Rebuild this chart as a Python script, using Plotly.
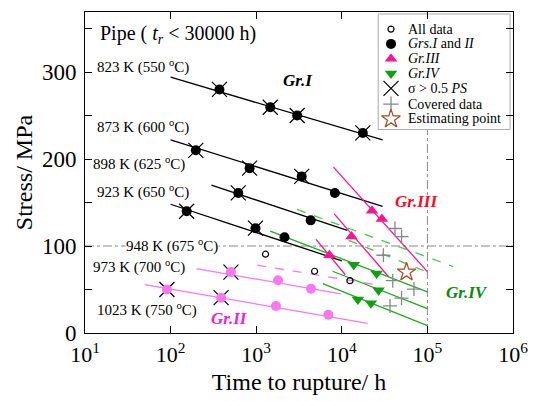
import plotly.graph_objects as go

SERIF = "Liberation Serif, Times New Roman, serif"

# ---------------- data (time to rupture h, stress MPa) ----------------
# Group I black fit lines
line_823_t = [100, 30000];  line_823_s = [294, 222]
line_873_t = [100, 30000];  line_873_s = [222, 145.5]
line_898_t = [300, 11600];  line_898_s = [170, 118]
line_923_t = [100, 10000];  line_923_s = [148, 83]

# Group I points (flag 1 = sigma > 0.5 PS)
pts_823_t = [372, 1460, 3010, 17600]; pts_823_s = [280, 259.5, 250, 230]; pts_823_x = [1, 1, 1, 1]
pts_873_t = [197, 837, 3400, 8300];   pts_873_s = [210, 189.5, 180, 161]; pts_873_x = [1, 1, 1, 0]
pts_898_t = [617, 4330];              pts_898_s = [161, 129.5];           pts_898_x = [1, 0]
pts_923_t = [154, 981, 2140];         pts_923_s = [140, 120.5, 110];      pts_923_x = [1, 1, 0]

# Group II (pink) lines and points
line_973_t = [200, 9750];   line_973_s = [74, 45]
line_1023_t = [50, 20000];  line_1023_s = [55.7, 11]
line_948_t = [1026, 29400]; line_948_s = [78, 54.5]          # dashed
pts_973_t = [507, 1800, 4370];         pts_973_s = [70, 60.7, 50.8];      pts_973_x = [1, 0, 0]
pts_1023_t = [90.6, 389, 1700, 6970];  pts_1023_s = [50, 40.6, 31, 21];   pts_1023_x = [1, 1, 0, 0]

# All data (open circles, 948 K)
all_t = [1285, 4810, 12450]; all_s = [90.6, 71, 60.2]

# Group III (deep pink) lines and triangles
g3_lines_t = [[8000, 100000], [8150, 35000], [5000, 11000]]
g3_lines_s = [[190.6, 70.5], [137, 65], [107.6, 67]]
g3_pts_t = [22500, 29400, 13000, 7180]
g3_pts_s = [140.6, 131, 111, 89.4]

# Group IV (green) solid lines, dashed lines and triangles
g4_lines_t = [[1460, 100000], [7800, 100000], [6000, 100000]]
g4_lines_s = [[117, 47.4], [71, 28], [56.8, 8.4]]
g4_dash_t = [[3000, 200000], [12000, 100000]]
g4_dash_s = [[142, 76.4], [106.5, 70]]
g4_pts_t = [13800, 25500, 26900, 15400, 21900]
g4_pts_s = [78.4, 68.4, 49, 38.6, 34.1]

# Covered data and estimating point
cov_t = [41800, 49900, 30600, 39400, 69600, 49900, 36600]
cov_s = [120.1, 110.7, 89.4, 60.2, 50.5, 40.2, 31.1]
est_t = [57000]; est_s = [70]

REF_STRESS = 100
REF_TIME = 1e5

x_tickvals = [10, 100, 1000, 10000, 100000, 1000000]
x_ticktext = ["10<sup>1</sup>", "10<sup>2</sup>", "10<sup>3</sup>",
              "10<sup>4</sup>", "10<sup>5</sup>", "10<sup>6</sup>"]
y_tickvals = [0, 100, 200, 300]

BLACK = "#000000"
PINK2 = "#FF77EE"     # Gr.II
PINK3 = "#FF1493"     # Gr.III
GREEN = "#22AA22"     # Gr.IV
GREEN_T = "#11A011"
GREEN_D = "#44CC44"
GRAY = "#888888"
BROWN = "#A0522D"

fig = go.Figure()

def add_line(t, s, color, dash="solid", width=1.3):
    fig.add_trace(go.Scatter(x=t, y=s, mode="lines", showlegend=False, hoverinfo="skip",
                             line=dict(color=color, width=width, dash=dash)))

for t, s in [(line_823_t, line_823_s), (line_873_t, line_873_s),
             (line_898_t, line_898_s), (line_923_t, line_923_s)]:
    add_line(t, s, BLACK)
for t, s in [(line_973_t, line_973_s), (line_1023_t, line_1023_s)]:
    add_line(t, s, PINK2)
add_line(line_948_t, line_948_s, PINK2, dash="dash")
for t, s in zip(g3_lines_t, g3_lines_s):
    add_line(t, s, PINK3)
for t, s in zip(g4_lines_t, g4_lines_s):
    add_line(t, s, GREEN)
for t, s in zip(g4_dash_t, g4_dash_s):
    add_line(t, s, GREEN_D, dash="dash")

def add_pts(t, s, flags, color):
    xt = [a for a, f in zip(t, flags) if f]
    xs = [b for b, f in zip(s, flags) if f]
    if xt:
        fig.add_trace(go.Scatter(x=xt, y=xs, mode="markers", showlegend=False,
                                 marker=dict(symbol="x-thin", size=15, color=BLACK,
                                             line=dict(color=BLACK, width=1.2))))
    fig.add_trace(go.Scatter(x=t, y=s, mode="markers", showlegend=False,
                             marker=dict(symbol="circle", size=10, color=color,
                                         line=dict(width=0))))

fig.add_trace(go.Scatter(x=all_t, y=all_s, mode="markers", showlegend=False,
                         marker=dict(symbol="circle-open", size=6, color=BLACK, line=dict(width=1.2))))
add_pts(pts_823_t, pts_823_s, pts_823_x, BLACK)
add_pts(pts_873_t, pts_873_s, pts_873_x, BLACK)
add_pts(pts_898_t, pts_898_s, pts_898_x, BLACK)
add_pts(pts_923_t, pts_923_s, pts_923_x, BLACK)
add_pts(pts_973_t, pts_973_s, pts_973_x, PINK2)
add_pts(pts_1023_t, pts_1023_s, pts_1023_x, PINK2)

fig.add_trace(go.Scatter(x=g3_pts_t, y=g3_pts_s, mode="markers", showlegend=False,
                         marker=dict(symbol="triangle-up", size=11, color=PINK3)))
fig.add_trace(go.Scatter(x=g4_pts_t, y=g4_pts_s, mode="markers", showlegend=False,
                         marker=dict(symbol="triangle-down", size=11, color=GREEN_T)))
fig.add_trace(go.Scatter(x=cov_t, y=cov_s, mode="markers", showlegend=False,
                         marker=dict(symbol="cross-thin", size=10, color=GRAY,
                                     line=dict(color=GRAY, width=1.3))))
fig.add_trace(go.Scatter(x=est_t, y=est_s, mode="markers", showlegend=False,
                         marker=dict(symbol="star-open", size=14, color=BROWN, line=dict(width=1.3))))

# reference dash-dot lines
fig.add_shape(type="line", xref="paper", yref="y", x0=0, x1=1, y0=REF_STRESS, y1=REF_STRESS,
              line=dict(color=GRAY, width=1, dash="dashdot"), layer="below")
fig.add_shape(type="line", xref="x", yref="paper", x0=REF_TIME, x1=REF_TIME, y0=0, y1=1,
              line=dict(color=GRAY, width=1, dash="dashdot"), layer="below")

# ---------------- manual legend (pixel overlay axes) ----------------
leg_y = [28.3, 43.3, 58.3, 73.3, 88.3, 104.3, 119.3]
leg_text = ["All data", "<i>Grs.I</i> and <i>II</i>", "<i>Gr.III</i>", "<i>Gr.IV</i>",
            "σ &gt; 0.5 <i>PS</i>", "Covered data", "Estimating point"]
leg_marker = [dict(symbol="circle-open", size=6, color=BLACK, line=dict(width=1.2)),
              dict(symbol="circle", size=10, color=BLACK),
              dict(symbol="triangle-up", size=11, color=PINK3),
              dict(symbol="triangle-down", size=11, color=GREEN_T),
              dict(symbol="x-thin", size=15, color=BLACK, line=dict(color=BLACK, width=1.2)),
              dict(symbol="cross-thin", size=11, color=GRAY, line=dict(color=GRAY, width=1.3)),
              dict(symbol="star-open", size=14, color=BROWN, line=dict(width=1.3))]
fig.add_shape(type="rect", xref="x2", yref="y2", x0=383, x1=517, y0=13, y1=130,
              fillcolor="white", line=dict(color="#AAAAAA", width=1), layer="below")
for yy, txt, mk in zip(leg_y, leg_text, leg_marker):
    fig.add_trace(go.Scatter(x=[396], y=[yy], xaxis="x2", yaxis="y2", mode="markers",
                             showlegend=False, hoverinfo="skip", marker=mk))
    fig.add_annotation(x=411, y=yy, xref="x2", yref="y2", text=txt, showarrow=False,
                       xanchor="left", yanchor="middle", font=dict(family=SERIF, size=14, color=BLACK))

# ---------------- text labels ----------------
def label(x, y, txt, size=15, color=BLACK, xanchor="left", bg=None):
    fig.add_annotation(x=x, y=y, xref="x2", yref="y2", text=txt, showarrow=False,
                       xanchor=xanchor, yanchor="middle", bgcolor=bg,
                       font=dict(family=SERIF, size=size, color=color), borderpad=0)

label(99, 34, "Pipe ( <i>t<sub>r</sub></i> &lt; 30000 h)", size=20)
label(96, 66, "823 K (550 <sup>o</sup>C)")
label(96, 127, "873 K (600 <sup>o</sup>C)")
label(92, 164, "898 K (625 <sup>o</sup>C)")
label(96, 193, "923 K (650 <sup>o</sup>C)")
label(126, 247, "948 K (675 <sup>o</sup>C)", bg="white")
label(92, 269, "973 K (700 <sup>o</sup>C)")
label(96, 312, "1023 K (750 <sup>o</sup>C)")
label(301, 80, "<b><i>Gr.I</i></b>", size=17, xanchor="center")
label(232, 321, "<b><i>Gr.II</i></b>", size=17, color="#EE22DD", xanchor="center")
label(422, 203, "<b><i>Gr.III</i></b>", size=17, color="#FF0A2A", xanchor="center")
label(473, 295, "<b><i>Gr.IV</i></b>", size=17, color="#118811", xanchor="center")

fig.update_layout(
    width=539, height=401,
    margin=dict(l=85, r=19, t=11, b=65),
    paper_bgcolor="white", plot_bgcolor="white",
    font=dict(family=SERIF, color=BLACK),
    showlegend=False,
    xaxis=dict(type="log", range=[1, 6], tickvals=x_tickvals, ticktext=x_ticktext,
               ticks="inside", ticklen=7, tickcolor=BLACK, showline=True, linecolor=BLACK,
               linewidth=1, mirror="ticks", showgrid=False, zeroline=False,
               tickfont=dict(family=SERIF, size=22), ticklabelstandoff=2,
               title=dict(text="Time to rupture/ h", font=dict(family=SERIF, size=24), standoff=6)),
    yaxis=dict(range=[0, 369], tickvals=y_tickvals, ticks="inside", ticklen=7, tickcolor=BLACK,
               showline=True, linecolor=BLACK, linewidth=1, mirror="ticks", showgrid=False,
               zeroline=False, tickfont=dict(family=SERIF, size=23), ticklabelstandoff=3,
               minor=dict(tickvals=[50, 150, 250, 350], ticks="inside", ticklen=7, tickcolor=BLACK),
               title=dict(text="Stress/ MPa", font=dict(family=SERIF, size=24), standoff=2)),
    xaxis2=dict(overlaying="x", range=[85, 520], visible=False, fixedrange=True),
    yaxis2=dict(overlaying="y", range=[336, 11], visible=False, fixedrange=True),
)

fig.write_html("out.html")
